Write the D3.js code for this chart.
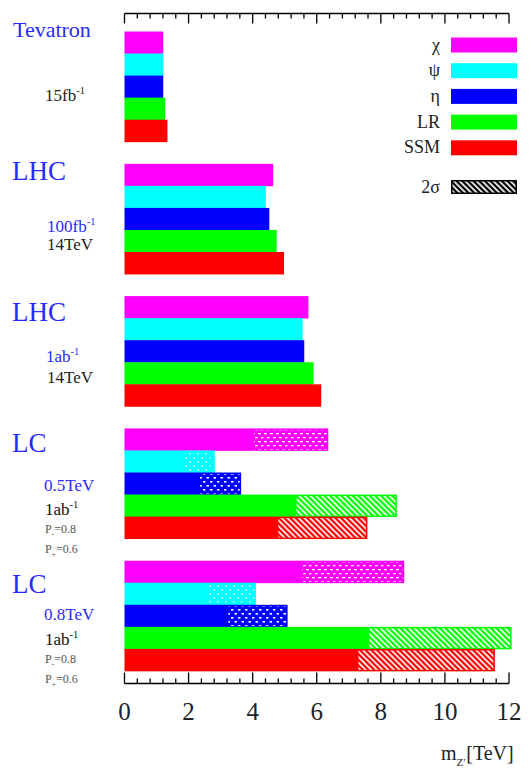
<!DOCTYPE html>
<html>
<head>
<meta charset="utf-8">
<script src="https://cdn.jsdelivr.net/npm/d3@7"></script>
<style>
  body { margin: 0; background: #fff; }
  svg { display: block; }
  text { font-family: "Liberation Serif", "Times New Roman", "DejaVu Serif", serif; }
</style>
</head>
<body>
<div id="chart"></div>
<script>
// ---------- data ----------
const groups = ["Tevatron", "LHC 100fb", "LHC 1ab", "LC 0.5TeV", "LC 0.8TeV"];
const seriesNames = ["χ", "ψ", "η", "LR", "SSM"];
const seriesColors = ["#ff00ff", "#00ffff", "#0000ff", "#00ff00", "#ff0000"];
// reach in TeV (solid + hatched end)
const chiValues = [1.21, 4.64, 5.74, 6.36, 8.73];
const psiValues = [1.21, 4.41, 5.56, 2.82, 4.10];
const etaValues = [1.21, 4.52, 5.61, 3.64, 5.09];
const lrValues  = [1.27, 4.75, 5.90, 8.50, 12.08];
const ssmValues = [1.34, 4.98, 6.14, 7.58, 11.56];
// start of hatched region, null = none
const chiHatch = [null, null, null, 4.04, 5.55];
const psiHatch = [null, null, null, 1.84, 2.57];
const etaHatch = [null, null, null, 2.36, 3.24];
const lrHatch  = [null, null, null, 5.37, 7.64];
const ssmHatch = [null, null, null, 4.80, 7.30];
const tickValues = [0, 2, 4, 6, 8, 10, 12];

const allValues = [chiValues, psiValues, etaValues, lrValues, ssmValues];
const allHatch = [chiHatch, psiHatch, etaHatch, lrHatch, ssmHatch];
const hatchPatterns = ["pat-chi", "pat-psi", "pat-eta", "pat-stripe", "pat-stripe"];

// ---------- setup ----------
const W = 531, H = 768;
const svg = d3.select("#chart").append("svg").attr("width", W).attr("height", H);

function txt(parent, xp, yp) {
  return parent.append("text").attr("x", xp).attr("y", yp);
}

const x = d3.scaleLinear().domain([0, 12]).range([124.5, 509]);
const slotsPerGroup = 6;
const y = d3.scaleBand()
  .domain(d3.range(groups.length * slotsPerGroup))
  .range([31.5, 31.5 + groups.length * slotsPerGroup * 22.05])
  .padding(0);

// ---------- patterns ----------
const defs = svg.append("defs");
const pc = defs.append("pattern").attr("id", "pat-chi").attr("patternUnits", "userSpaceOnUse")
  .attr("width", 6).attr("height", 8);
pc.append("rect").attr("x", 0).attr("y", 1).attr("width", 3).attr("height", 1.3).attr("fill", "#fff");
pc.append("rect").attr("x", 3).attr("y", 5).attr("width", 2.5).attr("height", 1.3).attr("fill", "#fff");

const pp = defs.append("pattern").attr("id", "pat-psi").attr("patternUnits", "userSpaceOnUse")
  .attr("width", 8).attr("height", 8);
pp.append("rect").attr("x", 1).attr("y", 1).attr("width", 1.5).attr("height", 1.5).attr("fill", "#fff");
pp.append("rect").attr("x", 5).attr("y", 5).attr("width", 1.5).attr("height", 1.5).attr("fill", "#fff");

const pe = defs.append("pattern").attr("id", "pat-eta").attr("patternUnits", "userSpaceOnUse")
  .attr("width", 7).attr("height", 8);
pe.append("rect").attr("x", 0).attr("y", 1).attr("width", 2.5).attr("height", 1.6).attr("fill", "#fff");
pe.append("rect").attr("x", 3.5).attr("y", 5).attr("width", 2.5).attr("height", 1.6).attr("fill", "#fff");

const ps = defs.append("pattern").attr("id", "pat-stripe").attr("patternUnits", "userSpaceOnUse")
  .attr("width", 4).attr("height", 10).attr("patternTransform", "rotate(-45)");
ps.append("rect").attr("x", 0).attr("y", 0).attr("width", 1.7).attr("height", 10).attr("fill", "#fff");

// ---------- bars ----------
const barData = [];
groups.forEach((g, gi) => {
  seriesNames.forEach((s, si) => {
    barData.push({
      gi, si, slot: gi * slotsPerGroup + si,
      value: allValues[si][gi], hatch: allHatch[si][gi],
      color: seriesColors[si], pattern: hatchPatterns[si]
    });
  });
});

const barsG = svg.append("g");
barsG.selectAll("rect.bar").data(barData).join("rect")
  .attr("class", "bar")
  .attr("x", x(0))
  .attr("y", d => y(d.slot))
  .attr("width", d => x(d.value) - x(0))
  .attr("height", y.bandwidth() + 0.4)
  .attr("fill", d => d.color);

barsG.selectAll("rect.hatch").data(barData.filter(d => d.hatch != null)).join("rect")
  .attr("class", "hatch")
  .attr("x", d => x(d.hatch))
  .attr("y", d => y(d.slot) + 1.5)
  .attr("width", d => x(d.value) - x(d.hatch) - 1.5)
  .attr("height", y.bandwidth() - 2.5)
  .attr("fill", d => `url(#${d.pattern})`);

// ---------- axes ----------
const topY = 13.5, botY = 683.5;
const minorTicks = d3.range(0, 12.001, 0.4);
const axisG = svg.append("g").attr("stroke", "#000");
axisG.append("line").attr("x1", x(0)).attr("x2", x(12)).attr("y1", topY).attr("y2", topY).attr("stroke-width", 1.3);
axisG.append("line").attr("x1", x(0)).attr("x2", x(12)).attr("y1", botY).attr("y2", botY).attr("stroke-width", 1.3);
const isMajor = v => Math.abs(v / 2 - Math.round(v / 2)) < 1e-6;
axisG.selectAll("line.tt").data(minorTicks).join("line").attr("class", "tt")
  .attr("x1", d => x(d)).attr("x2", d => x(d))
  .attr("y1", topY).attr("y2", d => topY + (isMajor(d) ? 10 : 5))
  .attr("stroke-width", 1.3);
axisG.selectAll("line.bt").data(minorTicks).join("line").attr("class", "bt")
  .attr("x1", d => x(d)).attr("x2", d => x(d))
  .attr("y1", botY).attr("y2", d => botY - (isMajor(d) ? 11 : 5))
  .attr("stroke-width", 1.3);

const tickG = svg.append("g");
tickValues.forEach(v => {
  txt(tickG, x(v), 720).attr("text-anchor", "middle").attr("font-size", 25).attr("fill", "#222").text(v);
});

const xt = txt(svg, 441, 760).attr("font-size", 20).attr("fill", "#222");
xt.append("tspan").text("m");
xt.append("tspan").attr("dy", 6).attr("font-size", 11).text("Z'");
xt.append("tspan").attr("dy", -6).attr("dx", 1).text("[TeV]");

// ---------- legend ----------
const leg = svg.append("g");
seriesNames.forEach((s, i) => {
  const yy = 37.5 + i * 25.7;
  leg.append("rect").attr("x", 451).attr("y", yy).attr("width", 66).attr("height", 15).attr("fill", seriesColors[i]);
  txt(leg, 440, yy + 13).attr("text-anchor", "end")
    .attr("font-size", 18).attr("fill", "#222").text(s);
});
leg.append("rect").attr("x", 451).attr("y", 180).attr("width", 66).attr("height", 14).attr("fill", "#000");
leg.append("rect").attr("x", 452.5).attr("y", 181.5).attr("width", 63).attr("height", 11).attr("fill", "url(#pat-stripe)");
txt(leg, 440, 193).attr("text-anchor", "end")
  .attr("font-size", 18).attr("fill", "#222").text("2σ");

// ---------- left labels ----------
const blue = "#2a2aff";
function lab(xp, yp, size, color, main, sup, sub) {
  const t = txt(svg, xp, yp).attr("font-size", size).attr("fill", color);
  t.append("tspan").text(main);
  if (sup) t.append("tspan").attr("dy", -size * 0.4).attr("font-size", size * 0.62).text(sup);
  if (sub) {
    t.append("tspan").attr("dy", size * 0.3).attr("font-size", size * 0.62).text(sub[0]);
    t.append("tspan").attr("dy", -size * 0.3).text(sub[1]);
  }
  return t;
}
lab(13, 37, 22, blue, "Tevatron");
lab(45, 101, 17, "#222", "15fb", "-1");

lab(12, 180, 27, blue, "LHC");
lab(47, 232, 17, blue, "100fb", "-1");
lab(47, 250, 17, "#222", "14TeV");

lab(12, 321, 27, blue, "LHC");
lab(46, 362, 17, blue, "1ab", "-1");
lab(47, 383, 17, "#222", "14TeV");

lab(12, 452, 27, blue, "LC");
lab(44, 491, 17, blue, "0.5TeV");
lab(45, 515, 17, "#111", "1ab", "-1");
lab(45, 533, 12, "#555", "P", null, ["-", "=0.8"]);
lab(45, 553, 12, "#555", "P", null, ["+", "=0.6"]);

lab(12, 593, 27, blue, "LC");
lab(44, 620, 17, blue, "0.8TeV");
lab(45, 645, 17, "#111", "1ab", "-1");
lab(45, 663, 12, "#555", "P", null, ["-", "=0.8"]);
lab(45, 683, 12, "#555", "P", null, ["+", "=0.6"]);
</script>
</body>
</html>
